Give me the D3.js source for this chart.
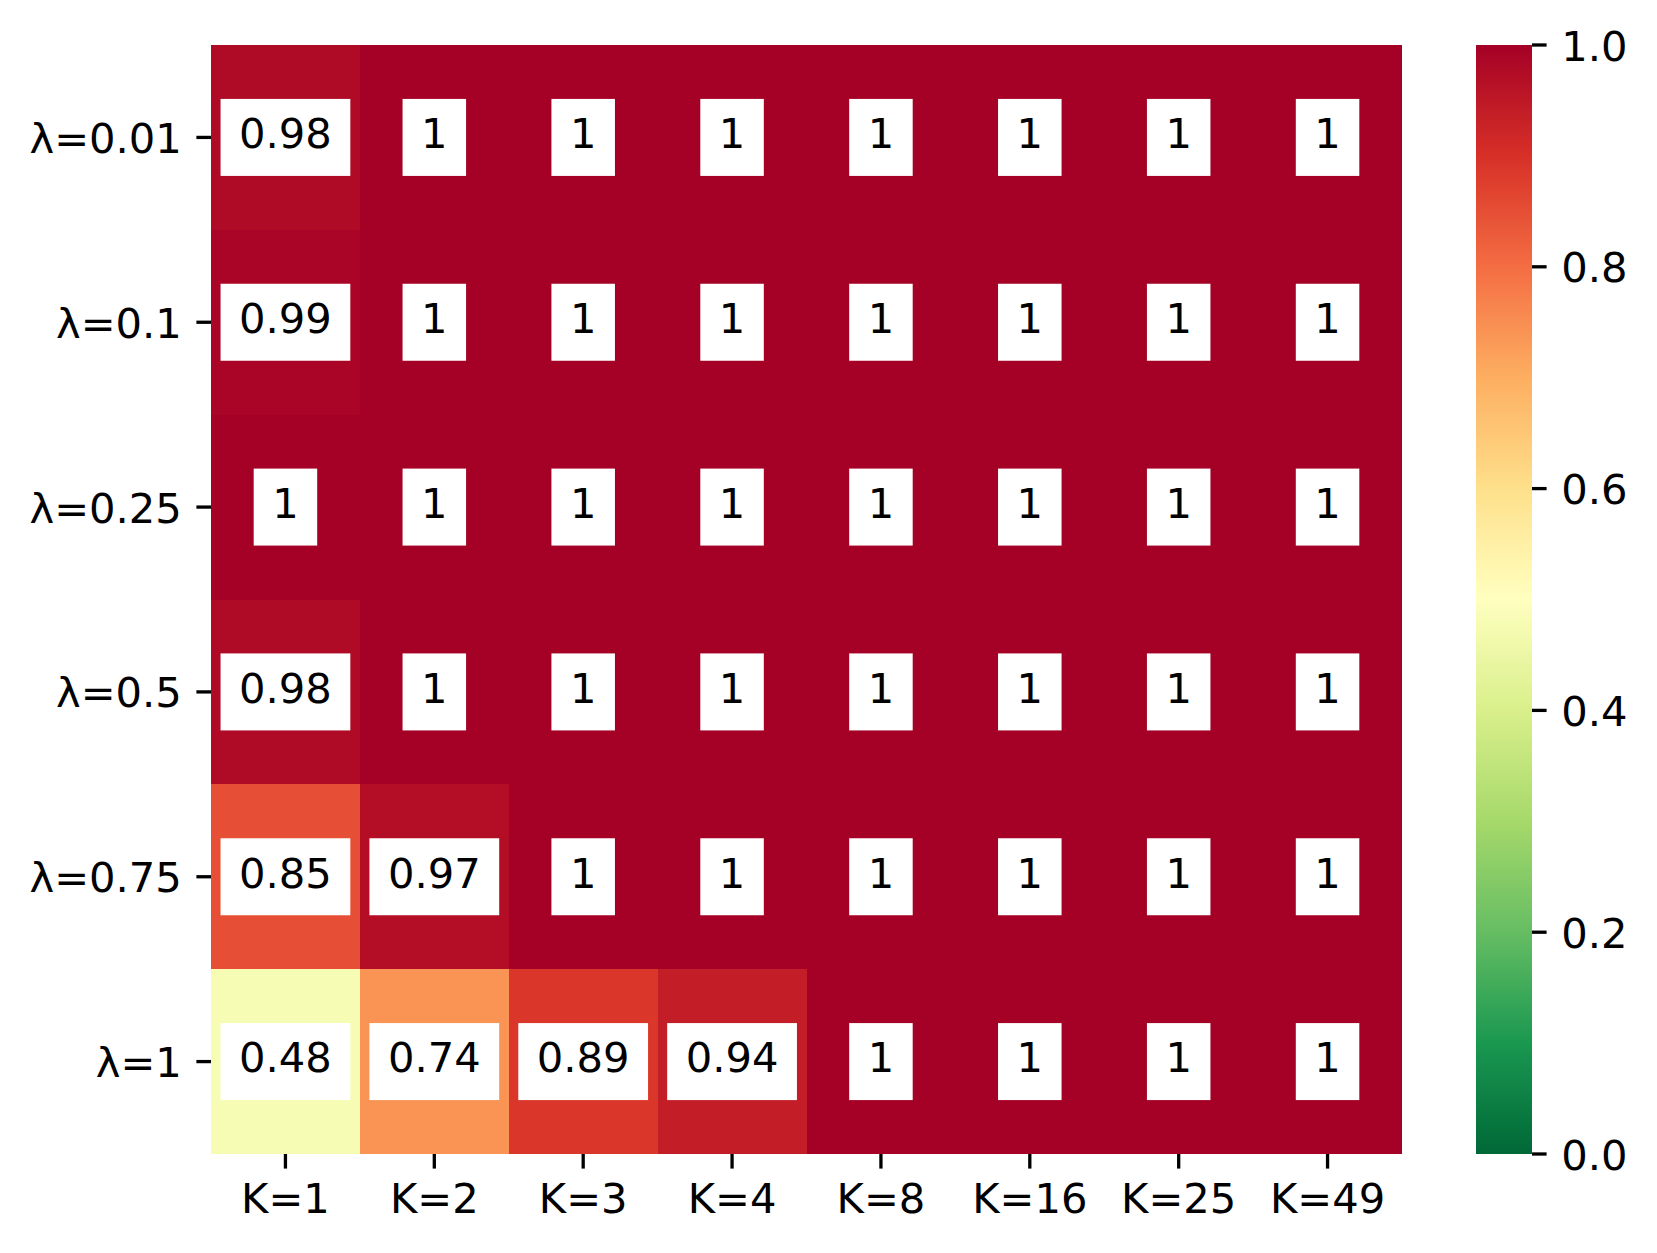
<!DOCTYPE html>
<html>
<head>
<meta charset="utf-8">
<script src="https://cdn.jsdelivr.net/npm/d3@7"></script>
<style>
html,body{margin:0;padding:0;background:#fff;}
svg{display:block;font-family:"DejaVu Sans",sans-serif;}
</style>
</head>
<body>
<svg id="chart" width="1657" height="1253"></svg>
<script>
const rowLabels = ["λ=0.01","λ=0.1","λ=0.25","λ=0.5","λ=0.75","λ=1"];
const colLabels = ["K=1","K=2","K=3","K=4","K=8","K=16","K=25","K=49"];
const values = [
  [0.98,1,1,1,1,1,1,1],
  [0.99,1,1,1,1,1,1,1],
  [1,1,1,1,1,1,1,1],
  [0.98,1,1,1,1,1,1,1],
  [0.85,0.97,1,1,1,1,1,1],
  [0.48,0.74,0.89,0.94,1,1,1,1]
];
const colorbarTicks = [0,0.2,0.4,0.6,0.8,1.0];
const rdylgn = ["#a50026","#d73027","#f46d43","#fdae61","#fee08b","#ffffbf","#d9ef8b","#a6d96a","#66bd63","#1a9850","#006837"];

const fs = 41.67;
const tickLen = 14.6, tickW = 3.3, pad = 14.6;
const L = 211, R = 1402, T = 45, B = 1154;
const cbL = 1476, cbR = 1532;

const svg = d3.select("#chart");
const interp = d3.piecewise(d3.interpolateRgb, rdylgn.slice().reverse()); // 0 -> green, 1 -> red
const color = d3.scaleSequential(interp).domain([0,1]);

const x = d3.scaleBand().domain(colLabels).range([L,R]).padding(0);
const y = d3.scaleBand().domain(rowLabels).range([T,B]).padding(0);

const cells = [];
values.forEach((row,i)=>row.forEach((v,j)=>cells.push({r:rowLabels[i],c:colLabels[j],v})));

// background in max color to avoid seams
svg.append("rect").attr("x",L).attr("y",T).attr("width",R-L).attr("height",B-T).attr("fill",color(1));
svg.append("g").attr("shape-rendering","crispEdges").selectAll("rect").data(cells).join("rect")
  .attr("x",d=>x(d.c)).attr("y",d=>y(d.r))
  .attr("width",x.bandwidth()).attr("height",y.bandwidth())
  .attr("fill",d=>color(d.v));

const fmt = d3.format(".2~g");
const ann = svg.append("g");
cells.forEach(d=>{
  const cx = x(d.c)+x.bandwidth()/2, cy = y(d.r)+y.bandwidth()/2;
  const g = ann.append("g");
  const rect = g.append("rect").attr("fill","#fff");
  const t = g.append("text").attr("x",cx).attr("y",cy+10.8)
    .attr("text-anchor","middle").attr("font-size",fs).attr("fill","#000")
    .text(fmt(d.v));
  const w = t.node().getComputedTextLength();
  rect.attr("x",cx-w/2-18.5).attr("width",w+37).attr("y",cy-38.5).attr("height",77);
});

// x axis
const xa = svg.append("g");
colLabels.forEach(c=>{
  const cx = x(c)+x.bandwidth()/2;
  xa.append("line").attr("x1",cx).attr("x2",cx).attr("y1",B).attr("y2",B+tickLen)
    .attr("stroke","#000").attr("stroke-width",tickW);
  xa.append("text").attr("x",cx).attr("y",1213).attr("text-anchor","middle")
    .attr("font-size",fs).text(c);
});
// y axis
const ya = svg.append("g");
rowLabels.forEach(r=>{
  const cy = y(r)+y.bandwidth()/2;
  ya.append("line").attr("x1",L-tickLen).attr("x2",L).attr("y1",cy).attr("y2",cy)
    .attr("stroke","#000").attr("stroke-width",tickW);
  ya.append("text").attr("x",L-tickLen-pad).attr("y",cy+15.5).attr("text-anchor","end")
    .attr("font-size",fs).text(r);
});

// colorbar
const defs = svg.append("defs");
const grad = defs.append("linearGradient").attr("id","cbgrad")
  .attr("x1",0).attr("y1",1).attr("x2",0).attr("y2",0);
d3.range(0,1.0001,0.01).forEach(t=>{
  grad.append("stop").attr("offset",t).attr("stop-color",color(t));
});
svg.append("rect").attr("x",cbL).attr("y",T).attr("width",cbR-cbL).attr("height",B-T)
  .attr("fill","url(#cbgrad)");
const cy = d3.scaleLinear().domain([0,1]).range([B,T]);
const cba = svg.append("g");
colorbarTicks.forEach(v=>{
  cba.append("line").attr("x1",cbR).attr("x2",cbR+tickLen).attr("y1",cy(v)).attr("y2",cy(v))
    .attr("stroke","#000").attr("stroke-width",tickW);
  cba.append("text").attr("x",cbR+tickLen+pad).attr("y",cy(v)+15.5)
    .attr("font-size",fs).text(d3.format(".1f")(v));
});
</script>
</body>
</html>
